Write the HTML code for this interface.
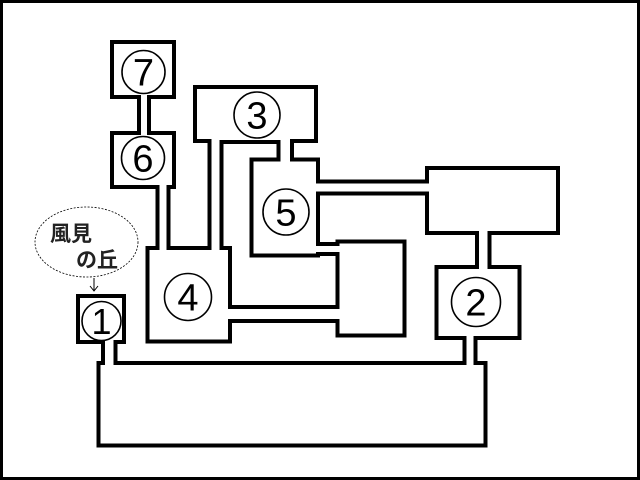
<!DOCTYPE html>
<html><head><meta charset="utf-8"><style>
html,body{margin:0;padding:0;background:#fff;}
svg{display:block;}
</style></head><body>
<svg width="640" height="480" viewBox="0 0 640 480" xmlns="http://www.w3.org/2000/svg">
<rect x="0" y="0" width="640" height="480" fill="#fff"/>
<rect x="1.5" y="1.5" width="637" height="477" fill="none" stroke="#000" stroke-width="3"/>
<g fill="none" stroke="#000" stroke-width="4" stroke-linejoin="miter">
<path d="M139,97 L112,97 L112,42 L174,42 L174,97 L149,97 L149,133 L174,133 L174,187 L168.5,187 L168.5,248 L209.5,248 L209.5,141 L195,141 L195,87 L316,87 L316,141 L292,141 L292,159.5 L318,159.5 L318,181.5 L427,181.5 L427,168 L558,168 L558,233 L489.5,233 L489.5,267 L519.5,267 L519.5,338 L475.5,338 L475.5,363 L485.5,363 L485.5,445.5 L98.5,445.5 L98.5,363 L103,363 L103,342 L78,342 L78,296 L124,296 L124,342 L115.5,342 L115.5,363 L464.5,363 L464.5,338 L436.5,338 L436.5,267 L477,267 L477,233 L427,233 L427,193.5 L318,193.5 L318,244 L337.5,244 L337.5,241.5 L404.5,241.5 L404.5,335.5 L337.5,335.5 L337.5,321 L230,321 L230,341.5 L147.5,341.5 L147.5,248 L157.5,248 L157.5,187 L112,187 L112,133 L139,133 Z"/>
<path d="M221.5,248 L221.5,142 L278.5,142 L278.5,159.5 L251.5,159.5 L251.5,255.5 L318,255.5 L318,254 L337.5,254 L337.5,307 L230,307 L230,248 Z"/>
</g>
<g fill="none" stroke="#000" stroke-width="1.6">
<circle cx="143.5" cy="72" r="21.5"/>
<circle cx="143" cy="158" r="21.5"/>
<circle cx="257" cy="115" r="23"/>
<circle cx="286" cy="212" r="23"/>
<circle cx="188" cy="297" r="23.5"/>
<circle cx="476" cy="302" r="24.5"/>
<circle cx="101.5" cy="321" r="19.5"/>
</g>
<g font-family="'Liberation Sans',sans-serif" font-size="38" text-anchor="middle" fill="#000">
<text x="143.5" y="85.5">7</text>
<text x="143" y="171.5">6</text>
<text x="257" y="128.5">3</text>
<text x="286" y="225.5">5</text>
<text x="188" y="310.5">4</text>
<text x="476" y="315.5">2</text>
<text x="101.5" y="334" font-size="36">1</text>
</g>
<ellipse cx="86.5" cy="242" rx="51.5" ry="35" fill="#fff" stroke="#000" stroke-width="0.8" stroke-dasharray="2,1.5"/>
<g font-family="'Noto Sans CJK JP',sans-serif" font-size="21" font-weight="bold" fill="#222">
<text x="50" y="241">風見</text>
<text x="76" y="267">の丘</text>
</g>
<path d="M94,278 L94,291 M90,286 L94,291 L98,286" fill="none" stroke="#000" stroke-width="1"/>
</svg>
</body></html>
